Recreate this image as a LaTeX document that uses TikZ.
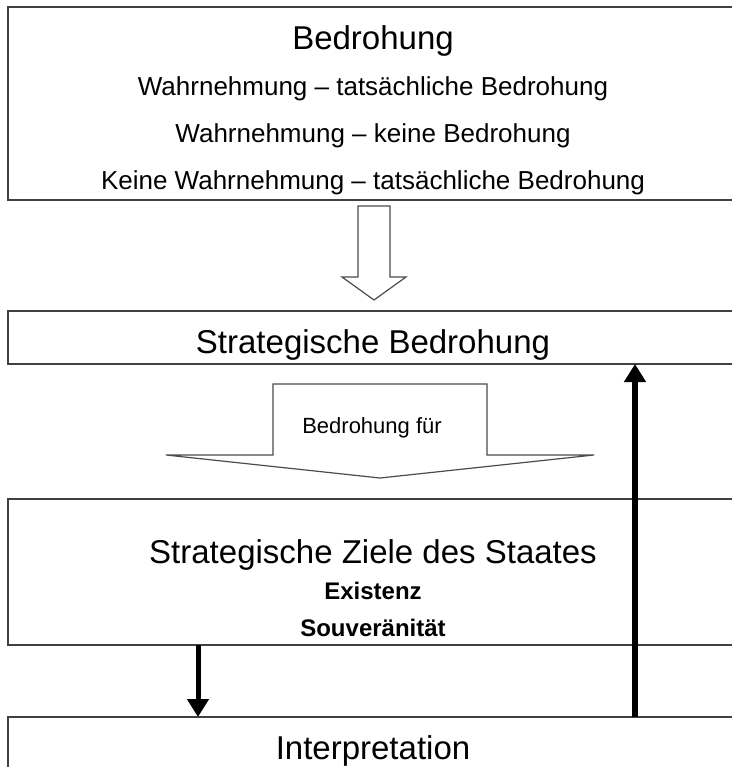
\documentclass[tikz,border=0pt]{standalone}
\usepackage{fontspec}
\setmainfont{Liberation Sans}
\usetikzlibrary{arrows.meta}
\begin{document}
\begin{tikzpicture}[x=1pt, y=-1pt,
    box/.style = {rectangle, anchor=north west, minimum width=760pt, inner sep=0pt, outer sep=0pt},
    edge/.style = {draw=black!75, line width=1.6pt},
    title/.style = {anchor=base, font=\fontsize{33}{33}\selectfont},
    item/.style = {anchor=base, font=\fontsize{26}{26}\selectfont},
    bolditem/.style = {anchor=base, font=\fontsize{24}{24}\selectfont\bfseries},
    hollow/.style = {draw=black!70, line width=1.2pt, fill=white},
    thick/.style = {line width=6pt, -{Triangle[length=18pt, width=21pt]}}]
    \useasboundingbox (0,0) rectangle (731,767);
    \node[box, minimum height=193pt] (threat) at (8,7) {};
    \node[box, minimum height=53pt] (strat) at (8,311) {};
    \node[box, minimum height=146pt] (goals) at (8,499) {};
    \node[box, minimum height=80pt] (interp) at (8,717) {};
    % boxes run off the right side
    \foreach \b in {threat, strat, goals, interp}
        \draw[edge] (\b.north east) -- (\b.north west) -- (\b.south west) -- (\b.south east);
    \node[title] (t1) at (373,50) {Bedrohung};
    \node[item] (l1) at (373,96) {Wahrnehmung – tatsächliche Bedrohung};
    \node[item] (l2) at (373,143) {Wahrnehmung – keine Bedrohung};
    \node[item] (l3) at (373,190) {Keine Wahrnehmung – tatsächliche Bedrohung};
    \node[title] (t2) at (373,353) {Strategische Bedrohung};
    \node[title] (t3) at (373,563) {Strategische Ziele des Staates};
    \node[bolditem] (g1) at (373,599) {Existenz};
    \node[bolditem] (g2) at (373,636) {Souveränität};
    \node[title] (t4) at (373,759) {Interpretation};
    % block arrows
    \draw[hollow] (358,206) -- (390,206) -- (390,277) -- (406,277) -- (374,300) -- (342,277) -- (358,277) -- cycle;
    \draw[hollow] (273,384) -- (487,384) -- (487,455) -- (594,455) -- (380,478) -- (166,455) -- (273,455) -- cycle;
    \node[anchor=base, font=\fontsize{22}{22}\selectfont] (for) at (372,433) {Bedrohung für};
    % feedback arrows
    \coordinate (left) at (198,0);
    \coordinate (right) at (635,0);
    \draw[thick, line width=5pt] (left |- goals.south) -- (left |- interp.north);
    \draw[thick] (right |- interp.north) -- (right |- strat.south);
\end{tikzpicture}
\end{document}
